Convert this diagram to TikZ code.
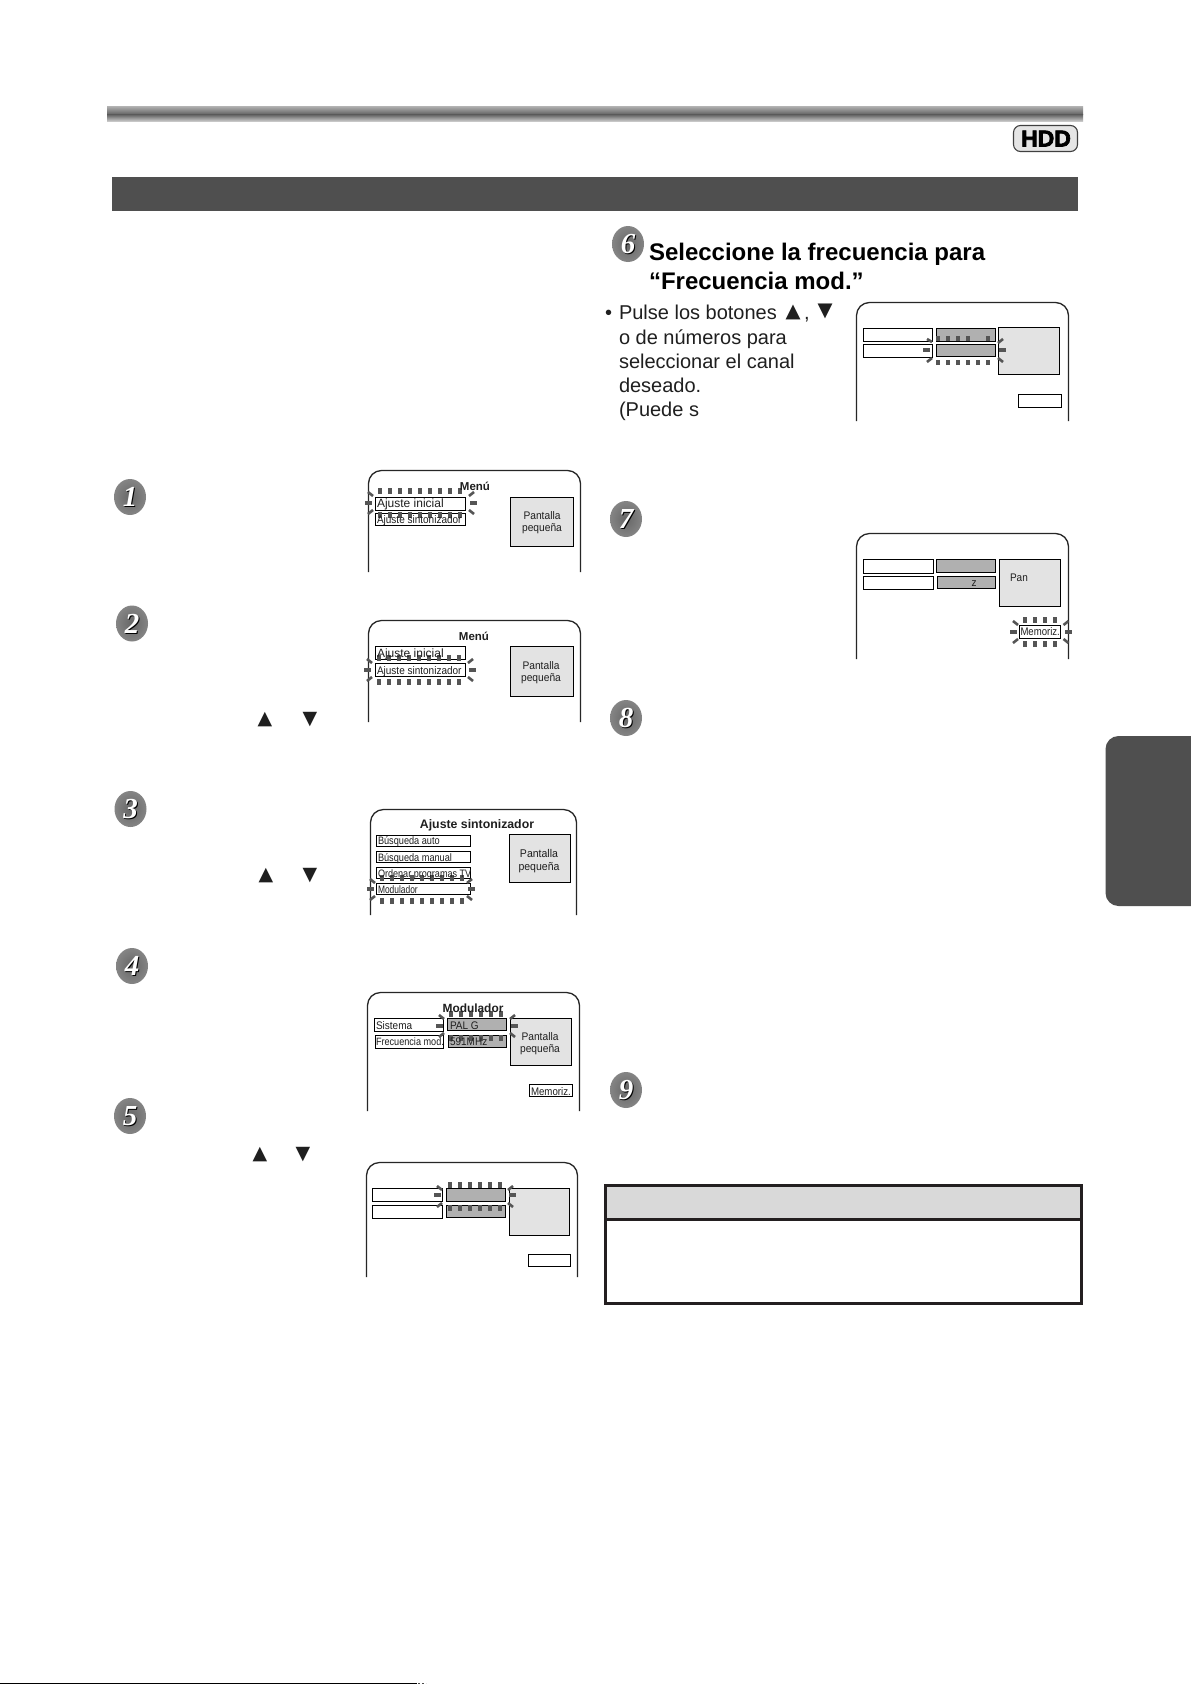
\documentclass[tikz,border=0pt]{standalone}
\usepackage{fontspec}
\setmainfont{Liberation Sans}
\newfontfamily\djv{DejaVu Sans}
\newfontfamily\dgt{Liberation Serif}
\newfontfamily\hddf{Liberation Sans}[FakeBold=3]
\definecolor{txt}{HTML}{1F1F1F}
\definecolor{bar}{HTML}{4F4F4F}
\definecolor{ray}{HTML}{555555}
\definecolor{smallbg}{HTML}{E3E3E3}
\definecolor{valbg}{HTML}{B0B0B0}
\definecolor{frame}{HTML}{231F20}
\newlength{\rayhalf}
\setlength{\rayhalf}{1.55pt}
\tikzset{
  fs/.style={font=\fontsize{#1}{#1}\selectfont},
  fsb/.style={font=\fontsize{#1}{#1}\selectfont\bfseries},
  narrow/.style={transform shape,xscale=#1},
  lbl/.style={inner sep=0,outer sep=0,anchor=base west,text=txt},
  ctr/.style={inner sep=0,outer sep=0,anchor=base,text=txt},
  itembox/.style={draw=black,line width=1pt,fill=white},
  valbox/.style={draw=black,line width=1pt,fill=valbg},
  smallbox/.style={draw=black,line width=1pt,fill=smallbg},
  screenline/.style={draw=black!85,line width=1.3pt,rounded corners=13pt},
  raydash/.style={draw=ray,line width=2.6pt},
  tri/.style={inner sep=0,outer sep=0,anchor=center,text=txt,font=\fontsize{#1}{#1}\selectfont\djv},
}
% single vertical and horizontal dashes as filled bars
\newcommand{\vdashbar}[3]{\fill[ray] ([xshift=-\rayhalf]#1,#2) rectangle ([xshift=\rayhalf]#1,#3);}
\newcommand{\hdashbar}[3]{\fill[ray] ([yshift=-\rayhalf]#1,#3) rectangle ([yshift=\rayhalf]#2,#3);}
% rays: {dash x list}{top row y}{bottom row y}{left x}{right x}{mid y}
\newcommand{\rays}[6]{%
  \foreach \rx in {#1} {
    \vdashbar{\rx}{#2}{#2+6}
    \vdashbar{\rx}{#3}{#3+6}
  }
  \hdashbar{#4}{#4+7}{#6}
  \hdashbar{#5}{#5+7}{#6}
  \draw[raydash] (#4+3,#2+4) -- (#4+8,#2+8);
  \draw[raydash] (#4+3,#3+2) -- (#4+8,#3-2);
  \draw[raydash] (#5+4,#2+4) -- (#5-1,#2+8);
  \draw[raydash] (#5+4,#3+2) -- (#5-1,#3-2);
}
% step disc: {name}{x}{y}{digit}
\newcommand{\stepdisc}[4]{%
  \shade[outer color=black!48,inner color=black!60] (#2,#3) ellipse [x radius=16,y radius=18];
  \node (#1s) [inner sep=0,text=black,font=\fontsize{29}{29}\selectfont\dgt\bfseries\itshape] at (#2+1.2,#3+1.2) {#4};
  \node (#1) [inner sep=0,text=white,font=\fontsize{29}{29}\selectfont\dgt\bfseries\itshape] at (#2,#3) {#4};
}
\begin{document}
\begin{tikzpicture}[x=1pt,y=-1pt]
\useasboundingbox (0,0) rectangle (1191,1684);
\fill[white] (0,0) rectangle (1191,1684);

% header band and dark bar
\shade[top color=black!30,bottom color=black!62] (107,106) rectangle (1083,114.5);
\shade[top color=black!62,bottom color=black!22] (107,114.5) rectangle (1083,121);
\fill[bar] (112,177) rectangle (1078,211);

% HDD badge
\draw[draw=black!75,line width=1.1pt,fill=black!10,rounded corners=7pt] (1013.5,125.5) rectangle (1077.5,151.5);
\node (hdd) [inner sep=0,anchor=base,text=black,font=\fontsize{23}{23}\selectfont\hddf\bfseries] at (1046,146.5) {HDD};

% side tab
\fill[bar,rounded corners=13pt] (1105.5,736) rectangle (1215,906);
\fill[white] (1191,730) rectangle (1220,912);

% bottom edge
\draw[black,line width=1.4pt] (0,1683.3) -- (417,1683.3);
\draw[black!70,line width=1.4pt,dash pattern=on 2pt off 2pt] (418,1683.3) -- (426,1683.3);

% step discs
\stepdisc{d1}{130}{497}{1}
\stepdisc{d2}{132}{623.5}{2}
\stepdisc{d3}{130.5}{809}{3}
\stepdisc{d4}{132}{966}{4}
\stepdisc{d5}{130}{1116}{5}
\stepdisc{d6}{628}{244}{6}
\stepdisc{d7}{626}{519}{7}
\stepdisc{d8}{626}{718}{8}
\stepdisc{d9}{626}{1090}{9}

% ---------- screen 1
\draw[screenline] (368.5,572) -- (368.5,470.5) -- (580.5,470.5) -- (580.5,572);
\draw[itembox] (375.5,497.5) rectangle (465.5,510.5);
\draw[itembox] (375.5,513.5) rectangle (465.5,525.5);
\draw[smallbox] (510.5,497.5) rectangle (573.5,546.5);
\rays{380,390,...,460}{488}{512}{365}{470}{503}
\node (s1t) [ctr,fsb=11.5] at (475,490) {Menú};
\node (s1a) [lbl,fs=12] at (377,507) {Ajuste inicial};
\node (s1b) [lbl,fs=11,narrow=.91] at (377,523) {Ajuste sintonizador};
\node (s1c) [ctr,fs=11,narrow=.93] at (542,519) {Pantalla};
\node (s1d) [ctr,fs=11,narrow=.93] at (542,531) {pequeña};

% ---------- screen 2
\draw[screenline] (368.5,722) -- (368.5,620.5) -- (580.5,620.5) -- (580.5,722);
\draw[itembox] (375.5,646.5) rectangle (465.5,659.5);
\draw[itembox] (375.5,663.5) rectangle (465.5,676.5);
\draw[smallbox] (510.5,646.5) rectangle (573.5,696.5);
\rays{379,389,...,459}{655}{679}{364}{469}{670}
\node (s2t) [ctr,fsb=11.5] at (474,640) {Menú};
\node (s2a) [lbl,fs=12] at (377,657) {Ajuste inicial};
\node (s2b) [lbl,fs=11,narrow=.91] at (377,674) {Ajuste sintonizador};
\node (s2c) [ctr,fs=11,narrow=.93] at (541,669) {Pantalla};
\node (s2d) [ctr,fs=11,narrow=.93] at (541,681) {pequeña};
\node (s2u) [tri=19] at (265,719.5) {▲};
\node (s2v) [tri=19] at (310,719.5) {▼};

% ---------- screen 3
\draw[screenline] (370.5,915) -- (370.5,809.5) -- (576.5,809.5) -- (576.5,915);
\draw[itembox] (376.5,835.5) rectangle (470.5,846.5);
\draw[itembox] (376.5,851.5) rectangle (470.5,862.5);
\draw[itembox] (376.5,867.5) rectangle (470.5,878.5);
\draw[itembox] (376.5,883.5) rectangle (470.5,894.5);
\draw[smallbox] (509.5,834.5) rectangle (570.5,882.5);
\rays{382,392,...,462}{875}{898}{367}{468}{889}
\node (s3t) [ctr,fsb=12.3] at (477,828) {Ajuste sintonizador};
\node (s3a) [lbl,fs=10.8,narrow=.85] at (378,844) {Búsqueda auto};
\node (s3b) [lbl,fs=10.8,narrow=.85] at (378,861) {Búsqueda manual};
\node (s3e) [lbl,fs=10.8,narrow=.84] at (378,877) {Ordenar programas TV};
\node (s3f) [lbl,fs=10.8,narrow=.78] at (378,893) {Modulador};
\node (s3c) [ctr,fs=11.2,narrow=.94] at (539,857) {Pantalla};
\node (s3d) [ctr,fs=11.2,narrow=.94] at (539,870) {pequeña};
\node (s3u) [tri=19] at (266,876) {▲};
\node (s3v) [tri=19] at (310,875.5) {▼};

% ---------- screen 4
\draw[screenline] (367.5,1111) -- (367.5,992.5) -- (579.5,992.5) -- (579.5,1111);
\draw[itembox] (374.5,1018.5) rectangle (443.5,1031.5);
\draw[itembox] (375.5,1035.5) rectangle (443.5,1048.5);
\draw[valbox] (447.5,1018.5) rectangle (506.5,1030.5);
\draw[valbox] (448.5,1035.5) rectangle (506.5,1047.5);
\draw[smallbox] (510.5,1018.5) rectangle (571.5,1065.5);
\draw[itembox] (529.5,1084.5) rectangle (572.5,1096.5);
\rays{451,461,...,501}{1011}{1035}{436}{511}{1026}
\node (s4t) [ctr,fsb=11.9] at (473,1012) {Modulador};
\node (s4a) [lbl,fs=11,narrow=.91] at (376,1029) {Sistema};
\node (s4b) [lbl,fs=10.6,narrow=.86] at (376,1045) {Frecuencia mod.};
\node (s4e) [lbl,fs=11,narrow=.91] at (450,1029) {PAL G};
\node (s4f) [lbl,fs=11,narrow=.91] at (450,1045) {591MHz};
\node (s4c) [ctr,fs=11,narrow=.93] at (540,1040) {Pantalla};
\node (s4d) [ctr,fs=11,narrow=.93] at (540,1052) {pequeña};
\node (s4g) [lbl,fs=11,narrow=.88] at (531,1095) {Memoriz.};

% ---------- screen 5
\draw[screenline] (366.5,1277) -- (366.5,1162.5) -- (577.5,1162.5) -- (577.5,1277);
\draw[itembox] (372.5,1188.5) rectangle (442.5,1201.5);
\draw[itembox] (372.5,1205.5) rectangle (442.5,1218.5);
\draw[valbox] (446.5,1188.5) rectangle (505.5,1201.5);
\draw[valbox] (446.5,1205.5) rectangle (505.5,1217.5);
\draw[smallbox] (509.5,1188.5) rectangle (569.5,1235.5);
\draw[itembox] (528.5,1254.5) rectangle (570.5,1266.5);
\rays{450,460,...,500}{1182}{1205}{434}{509}{1195}
\node (s5u) [tri=19] at (260,1154.5) {▲};
\node (s5v) [tri=19] at (303,1154.5) {▼};

% ---------- screen 6
\draw[screenline] (856.5,421) -- (856.5,302.5) -- (1068.5,302.5) -- (1068.5,421);
\draw[itembox] (863.5,328.5) rectangle (932.5,341.5);
\draw[itembox] (863.5,344.5) rectangle (932.5,357.5);
\draw[valbox] (936.5,328.5) rectangle (995.5,341.5);
\draw[valbox] (936.5,344.5) rectangle (995.5,356.5);
\draw[smallbox] (998.5,327.5) rectangle (1059.5,374.5);
\draw[itembox] (1018.5,394.5) rectangle (1061.5,407.5);
\foreach \rx in {938,948,958,968,988} {\vdashbar{\rx}{336}{341}}
\foreach \rx in {938,948,...,988} {\vdashbar{\rx}{360}{365}}
\hdashbar{923}{930}{350}
\hdashbar{999}{1006}{350}
\draw[raydash] (927,339) -- (932,342);
\draw[raydash] (927,362) -- (932,358);
\draw[raydash] (1003,339) -- (998,343);
\draw[raydash] (1003,362) -- (998,358);
\node (h1) [lbl,fsb=24,text=black] at (649,260) {Seleccione la frecuencia para};
\node (h2) [lbl,fsb=24,text=black] at (649,289) {“Frecuencia mod.”};
\node (b0) [lbl,fs=20] at (605,319) {•};
\node (b1) [lbl,fs=20] at (619,319) {Pulse los botones};
\node (b1u) [tri=19.5] at (793,312) {▲};
\node (b1c) [lbl,fs=20] at (804,319) {,};
\node (b1v) [tri=19.5] at (825,311.5) {▼};
\node (b2) [lbl,fs=20] at (619,344.5) {o de números para};
\node (b3) [lbl,fs=20] at (619,368) {seleccionar el canal};
\node (b4) [lbl,fs=20] at (619,392) {deseado.};
\node (b5) [lbl,fs=20] at (619,416) {(Puede s};

% ---------- screen 7
\draw[screenline] (856.5,659) -- (856.5,533.5) -- (1068.5,533.5) -- (1068.5,659);
\draw[itembox] (863.5,559.5) rectangle (933.5,573.5);
\draw[itembox] (863.5,576.5) rectangle (933.5,589.5);
\draw[valbox] (936.5,559.5) rectangle (995.5,572.5);
\draw[valbox] (937.5,576.5) rectangle (995.5,588.5);
\draw[smallbox] (999.5,559.5) rectangle (1060.5,606.5);
\draw[itembox] (1019.5,625.5) rectangle (1060.5,638.5);
\rays{1025,1035,1045,1055}{617}{641}{1010}{1064.5}{632}
\node (s7z) [ctr,fs=11,narrow=.91] at (974,586) {z};
\node (s7p) [lbl,fs=11,narrow=.91] at (1010,581) {Pan};
\node (s7m) [lbl,fs=11,narrow=.87] at (1020.5,635) {Memoriz.};

% ---------- note box
\fill[black!15] (605.5,1185.5) rectangle (1081.5,1219.5);
\draw[draw=frame,line width=3pt] (605.5,1185.5) rectangle (1081.5,1303.5);
\draw[draw=frame,line width=3pt] (605.5,1219.5) -- (1081.5,1219.5);
\end{tikzpicture}
\end{document}
